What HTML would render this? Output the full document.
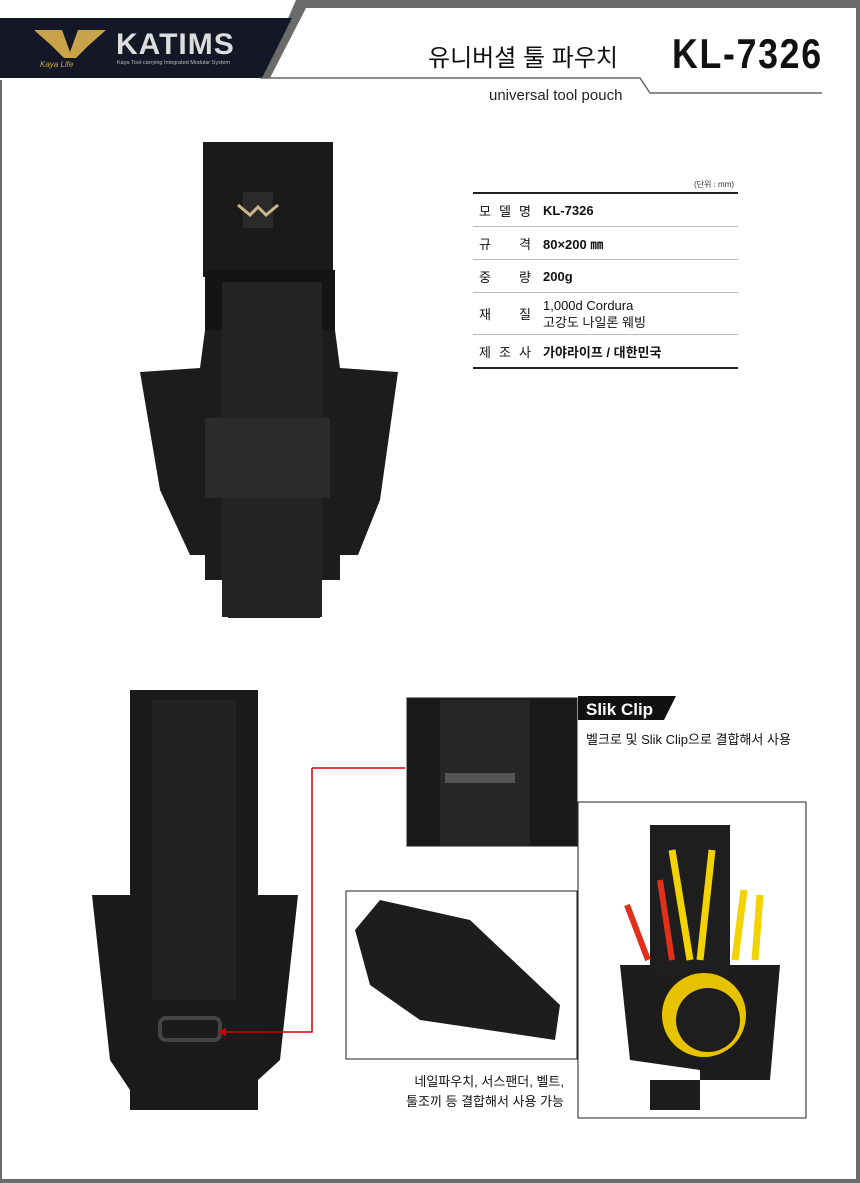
<!DOCTYPE html>
<html><head><meta charset="utf-8"><style>
body{margin:0;width:860px;height:1183px;position:relative;background:#fff;font-family:"Liberation Sans","Noto Sans CJK KR",sans-serif;overflow:hidden}
.a{position:absolute}
.row{display:flex;align-items:center;border-bottom:1px solid #bbb;height:32px;font-size:13px;color:#111}
.k{width:52px;margin:0 12px 0 6px;display:flex;justify-content:space-between}
.v{font-weight:bold}
</style></head><body>
<svg class="a" style="left:0;top:0" width="860" height="1183">
<path d="M0 80 H2 V1180 H856 V8 H860 V1183 H0Z" fill="#6b6b6b"/>
<path d="M180 0 H860 V8 H306 L270 78 H262 L296 0Z" fill="#6b6b6b"/>
<rect x="0" y="1179" width="860" height="4" fill="#6b6b6b"/>
<path d="M0 18 H292 L262 78 H0Z" fill="#141826"/>
<path d="M260 78 H640 L650 93 H822" stroke="#666" stroke-width="1.5" fill="none"/>
<path d="M34 30 L62 30 L70 52 L78 30 L106 30 L88 46 L76 58 L64 58 L52 46Z" fill="#c9a34a"/>
<rect x="203" y="142" width="130" height="135" fill="#1a1a1a"/>
<rect x="243" y="192" width="30" height="36" fill="#2a2a2a"/>
<path d="M238 205 l12 10 l8-8 l8 8 l12-10" stroke="#c9b88a" stroke-width="3" fill="none"/>
<path d="M140 372 L200 368 L205 330 H335 L340 368 L398 372 L380 500 L358 555 H340 V580 H320 V618 H228 V580 H205 V555 H190 L160 490Z" fill="#1c1c1c"/>
<rect x="205" y="270" width="130" height="60" fill="#141414"/>
<rect x="222" y="282" width="100" height="335" fill="#232323"/>
<rect x="205" y="418" width="125" height="80" fill="#2b2b2b"/>
<rect x="130" y="690" width="128" height="420" fill="#1b1b1b"/>
<rect x="152" y="700" width="84" height="300" fill="#222"/>
<path d="M92 895 H130 V1090 L110 1060Z M258 895 H298 L280 1060 L258 1080Z" fill="#1a1a1a"/>
<rect x="160" y="1018" width="60" height="22" rx="6" fill="none" stroke="#444" stroke-width="4"/>
<path d="M312 768 H405 M312 768 V1032 H222" stroke="#d10000" stroke-width="1.5" fill="none"/>
<path d="M218 1032 l8-4 v8z" fill="#d10000"/>
<rect x="407" y="698" width="170" height="148" fill="#1a1a1a" stroke="#222"/>
<rect x="440" y="700" width="90" height="146" fill="#262626"/>
<path d="M445 778 h70" stroke="#555" stroke-width="10"/>
<rect x="346" y="891" width="231" height="168" fill="#fff" stroke="#222"/>
<path d="M355 930 L380 900 L470 920 L560 1005 L555 1040 L420 1020 L370 985Z" fill="#1d1d1d"/>
<rect x="578" y="802" width="228" height="316" fill="#fff" stroke="#222"/>
<path d="M620 965 H780 L770 1080 H650 V1110 H700 V1070 L630 1060Z" fill="#1c1c1c"/>
<rect x="650" y="825" width="80" height="150" fill="#1e1e1e"/>
<path d="M672 850 L690 960 M712 850 L700 960 M744 890 L735 960 M760 895 L755 960" stroke="#f2d300" stroke-width="7"/>
<path d="M627 905 L648 960 M660 880 L672 960" stroke="#e0301c" stroke-width="6"/>
<circle cx="704" cy="1015" r="42" fill="#e6c200"/>
<circle cx="708" cy="1020" r="32" fill="#1e1e1e"/>
<path d="M578 696 H676 L664 720 H578Z" fill="#111"/>
</svg>
<div class="a" style="left:116px;top:28px;color:#ddd;font-size:30px;font-weight:bold;letter-spacing:1px">KATIMS</div>
<div class="a" style="left:117px;top:60px;color:#bbb;font-size:5.5px">Kaya Tool-carrying Integrated Modular System</div>
<div class="a" style="left:40px;top:60px;color:#c9a34a;font-size:8px;font-style:italic">Kaya Life</div>
<div class="a" style="left:428px;top:38px;font-size:24px;color:#111">유니버셜 툴 파우치</div>
<div class="a" style="left:672px;top:30px;font-size:42px;font-weight:bold;color:#111;transform:scaleX(.85);transform-origin:left;letter-spacing:2px">KL-7326</div>
<div class="a" style="left:489px;top:87px;font-size:15px;color:#222">universal tool pouch</div>
<div class="a" style="left:694px;top:179px;font-size:8px;color:#333">(단위 : mm)</div>
<div class="a" style="left:473px;top:192px;width:265px;border-top:2px solid #222;border-bottom:2px solid #222">
<div class="row"><span class="k"><span>모</span><span>델</span><span>명</span></span><span class="v">KL-7326</span></div>
<div class="row"><span class="k"><span>규</span><span>격</span></span><span class="v">80×200 ㎜</span></div>
<div class="row"><span class="k"><span>중</span><span>량</span></span><span class="v">200g</span></div>
<div class="row" style="height:41px"><span class="k"><span>재</span><span>질</span></span><span style="line-height:17px">1,000d Cordura<br>고강도 나일론 웨빙</span></div>
<div class="row" style="border:0"><span class="k"><span>제</span><span>조</span><span>사</span></span><span class="v">가야라이프 / 대한민국</span></div>
</div>
<div class="a" style="left:586px;top:700px;font-size:17px;font-weight:bold;color:#fff">Slik Clip</div>
<div class="a" style="left:586px;top:729px;font-size:13px;color:#111">벨크로 및 Slik Clip으로 결합해서 사용</div>
<div class="a" style="left:380px;top:1072px;width:184px;text-align:right;font-size:13px;line-height:20px;color:#111">네일파우치, 서스팬더, 벨트,<br>툴조끼 등 결합해서 사용 가능</div>
</body></html>
